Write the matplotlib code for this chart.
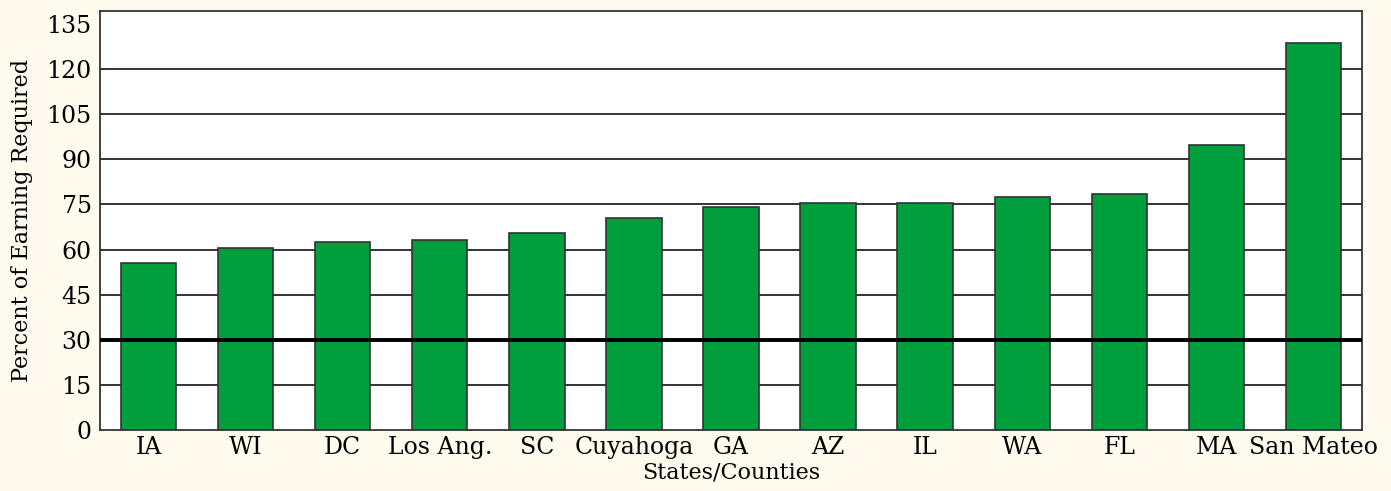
import matplotlib.pyplot as plt
import numpy as np

# Values
places = ["IA", "WI", "DC", "Los Ang.", "SC", "Cuyahoga", "GA", "AZ", "IL",
          "WA", "FL", "MA", "San Mateo"]
percent = [55.4, 60.4, 62.6, 63.2, 65.4, 70.5, 74.1, 75.5, 75.5, 77.5, 78.5, 94.8, 128.7]
yticks = [0, 15, 30, 45, 60, 75, 90, 105, 120, 135]
threshold = 30

bg = "#fefbee"
green = "#009e3d"

plt.rcParams["font.family"] = ["DejaVu Serif"]

fig = plt.figure(figsize=(13.91, 4.91), dpi=100, facecolor=bg)
ax = fig.add_axes([100 / 1391, 61 / 491, 1262 / 1391, 419 / 491])
ax.set_facecolor("white")

x = np.arange(len(places))
for y in yticks[1:-1]:
    if y != threshold:
        ax.axhline(y, color="#222222", lw=1.3, zorder=1)
ax.bar(x, percent, width=0.57, color=green, edgecolor="#333333", linewidth=1.2, zorder=2)
ax.axhline(threshold, color="black", lw=2.8, zorder=3)

ax.set_xlim(-0.5, len(places) - 0.5)
ax.set_ylim(0, 139.3)
ax.set_yticks(yticks)
ax.set_xticks(x)
ax.set_xticklabels(places)
ax.tick_params(length=0, labelsize=17, pad=6)
ax.tick_params(axis="x", pad=4)
for s in ax.spines.values():
    s.set_color("#333333")
    s.set_linewidth(1.3)

ax.set_ylabel("Percent of Earning Required", fontsize=16, labelpad=10)
ax.set_xlabel("States/Counties", fontsize=16, labelpad=2)

fig.savefig("out.png", dpi=100, facecolor=bg)
